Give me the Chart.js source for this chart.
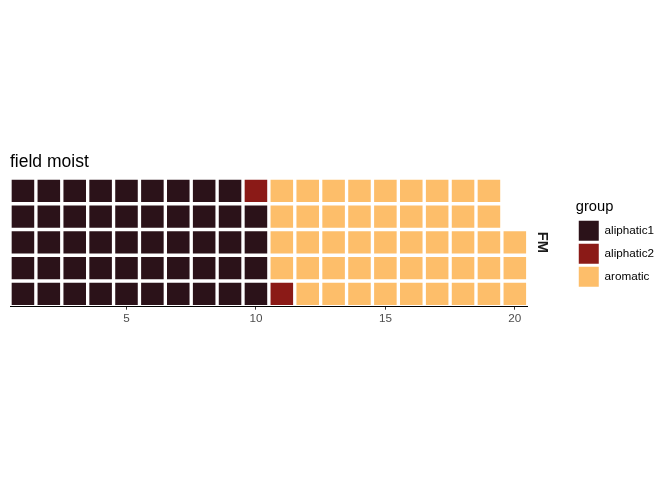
<!DOCTYPE html>
<html>
<head>
<meta charset="utf-8">
<script src="https://cdn.jsdelivr.net/npm/chart.js@4/dist/chart.umd.min.js"></script>
<style>
  html, body { margin: 0; padding: 0; background: #fff; }
  #wrap { width: 672px; height: 480px; position: relative; }
</style>
</head>
<body>
<div id="wrap"><canvas id="waffle"></canvas></div>
<script>
// waffle: field moist (FM)
const groups     = ["aliphatic1", "aliphatic2", "aromatic"];
const counts     = [49, 2, 47];
const colors     = ["#2B1219", "#8B1A17", "#FDBE6A"];
const nRows      = 5;
const colLabels  = ["1","2","3","4","5","6","7","8","9","10","11","12","13","14","15","16","17","18","19","20"];
const tickLabels = ["5", "10", "15", "20"];
const panelLabel = "FM";

(function () {
  "use strict";

  const FONT = "'Liberation Sans', Arial, Helvetica, sans-serif";

  // fill column by column, bottom row first
  function buildCells() {
    const sets = groups.map(() => []);
    let k = 0;
    counts.forEach((n, g) => {
      for (let i = 0; i < n; i++, k++) {
        const col = Math.floor(k / nRows);
        const row = (k % nRows) + 1;
        sets[g].push({ x: colLabels[col], y: [row - 0.5, row + 0.5] });
      }
    });
    return sets;
  }

  const cells = buildCells();

  const datasets = groups.map((g, i) => ({
    label: g,
    data: cells[i],
    backgroundColor: colors[i],
    borderColor: "#ffffff",
    borderWidth: 2,
    borderSkipped: false,
    grouped: false,
    categoryPercentage: 1,
    barPercentage: 1
  }));

  new Chart(document.getElementById("waffle"), {
    type: "bar",
    data: { labels: colLabels, datasets },
    options: {
      responsive: true,
      maintainAspectRatio: false,
      animation: false,
      events: [],
      layout: { padding: { left: 10, right: 8, top: 151.5, bottom: 153.3 } },
      scales: {
        x: {
          type: "category",
          offset: true,
          grid: {
            display: true,
            offset: false,
            drawOnChartArea: false,
            drawTicks: true,
            tickLength: 3,
            tickWidth: 1,
            tickColor: ctx => tickLabels.includes(colLabels[ctx.index]) ? "#333333" : "rgba(0,0,0,0)"
          },
          border: { display: true, color: "#000000", width: 1, z: 1 },
          ticks: {
            autoSkip: false,
            maxRotation: 0,
            padding: 2,
            color: "#4D4D4D",
            font: { family: FONT, size: 11.7 },
            callback: function (value) {
              const lbl = this.getLabelForValue(value);
              return tickLabels.includes(lbl) ? lbl : "";
            }
          },
          afterFit: s => { s.height = 20; }
        },
        y: {
          type: "linear",
          min: 0.5,
          max: nRows + 0.5,
          display: false
        },
        yr: {
          type: "linear",
          position: "right",
          min: 0.5,
          max: nRows + 0.5,
          grid: { display: false, drawTicks: false },
          border: { display: false },
          ticks: { display: false },
          title: {
            display: true,
            text: panelLabel,
            color: "#1A1A1A",
            font: { family: FONT, size: 14.7, weight: "bold" },
            padding: { top: 24.6, bottom: 0 }
          },
          afterFit: s => { s.width = 48; }
        }
      },
      plugins: {
        title: {
          display: true,
          text: "field moist",
          align: "start",
          color: "#000000",
          font: { family: FONT, size: 17.5, weight: "normal" },
          padding: { top: 0, bottom: 5.5 }
        },
        legend: {
          display: true,
          position: "right",
          align: "start",
          fullSize: false,
          title: {
            display: true,
            text: "group",
            position: "start",
            color: "#000000",
            font: { family: FONT, size: 14.7 },
            padding: { top: 21.7, bottom: 0.5 }
          },
          labels: {
            boxWidth: 20,
            boxHeight: 20,
            padding: 3,
            color: "#000000",
            font: { family: FONT, size: 11.7 },
            generateLabels: chart =>
              Chart.defaults.plugins.legend.labels.generateLabels(chart)
                .map(l => Object.assign(l, { lineWidth: 0 }))
          }
        },
        tooltip: { enabled: false }
      }
    }
  });
})();
</script>
</body>
</html>
